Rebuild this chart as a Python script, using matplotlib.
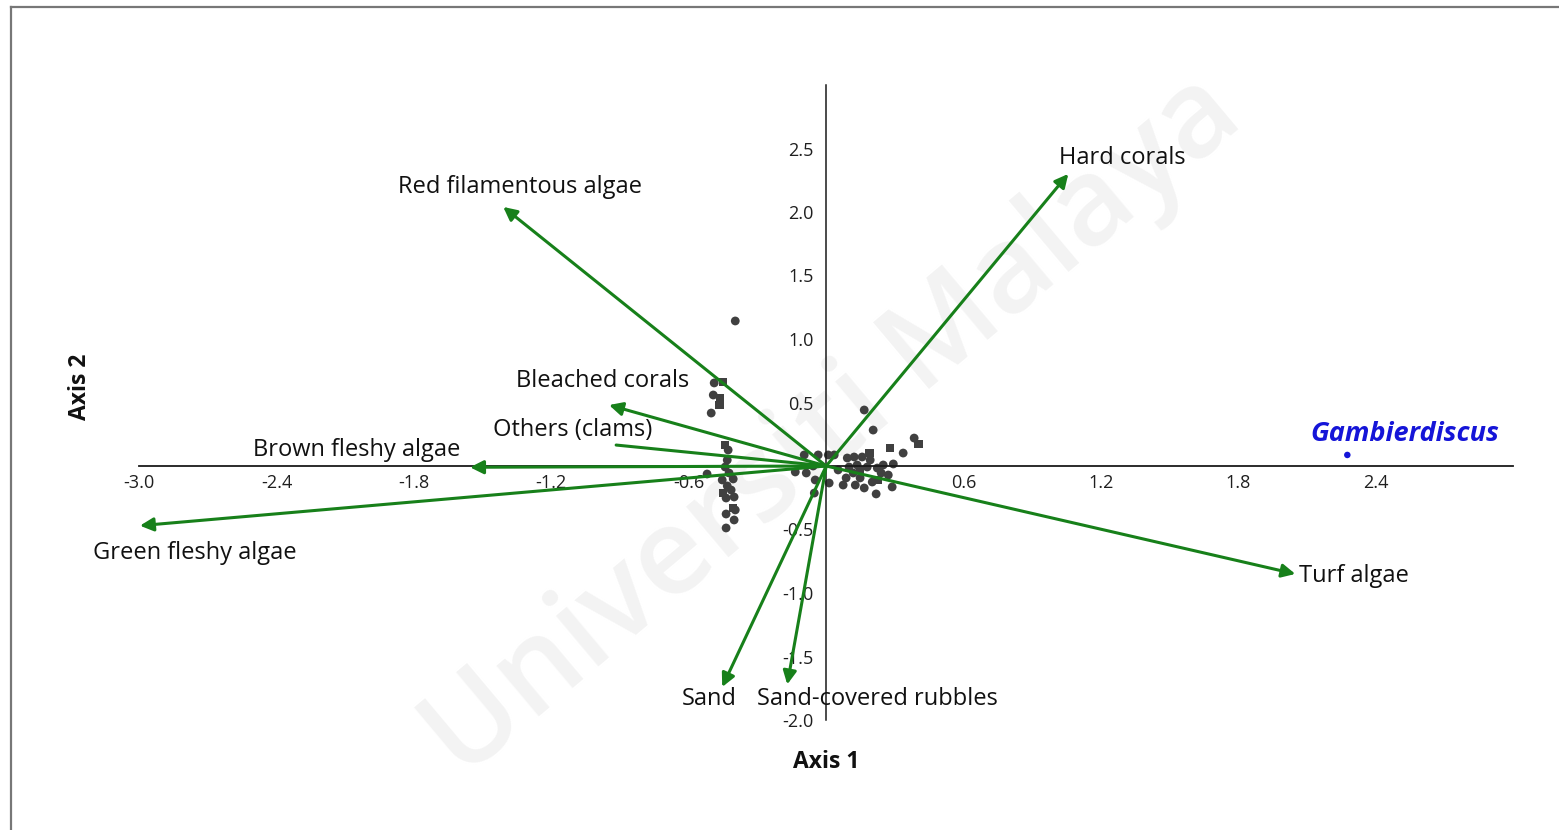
import matplotlib
matplotlib.use('Agg')
import matplotlib.pyplot as plt
from matplotlib.lines import Line2D

# ---------------- data ----------------
vec_names = ['Hard corals', 'Red filamentous algae', 'Bleached corals', 'Others (clams)',
             'Brown fleshy algae', 'Green fleshy algae', 'Turf algae', 'Sand',
             'Sand-covered rubbles']
vec_x = [1.057, -1.41, -0.948, -0.917, -1.555, -2.996, 2.048, -0.454, -0.17]
vec_y = [2.30, 2.04, 0.48, 0.165, -0.01, -0.47, -0.85, -1.74, -1.72]
vec_head = [True, True, True, False, True, True, True, True, True]

# label centres (data coords)
lab_x = [1.293, -1.336, -0.978, -1.105, -2.048, -2.755, 2.306, -0.511, 0.223]
lab_y = [2.425, 2.197, 0.669, 0.283, 0.126, -0.685, -0.866, -1.835, -1.835]

circ_x = [-0.397, -0.489, -0.493, -0.502, -0.428, -0.432, -0.441, -0.424, -0.454, -0.406,
          -0.432, -0.415, -0.437, -0.402, -0.397, -0.437, -0.402, -0.437, -0.520,
          0.166, 0.205, 0.384, 0.336, 0.293, -0.096, -0.035, 0.009, 0.035, 0.092, 0.122,
          0.157, -0.135, -0.087, -0.048, -0.052, 0.013, 0.074, 0.166, 0.218, 0.288,
          0.201, 0.240, 0.249, 0.118, 0.148, 0.223, 0.179, 0.135, 0.192, 0.100, 0.271,
          0.052, -0.057, 0.127, 0.087]
circ_y = [1.142, 0.654, 0.559, 0.417, 0.126, 0.047, -0.008, -0.055, -0.110, -0.102,
          -0.157, -0.189, -0.252, -0.244, -0.346, -0.378, -0.425, -0.488, -0.063,
          0.441, 0.283, 0.220, 0.102, 0.016, 0.087, 0.087, 0.087, 0.087, 0.063, 0.071,
          0.071, -0.047, -0.055, -0.110, -0.213, -0.134, -0.150, -0.173, -0.220, -0.165,
          -0.126, -0.055, 0.008, -0.055, -0.094, -0.016, -0.008, 0.008, 0.047, -0.008, -0.071,
          -0.031, 0.000, -0.150, -0.094]

sq_x = [-0.450, -0.463, -0.467, -0.441, -0.450, -0.406, 0.279, 0.188, 0.402, 0.148, 0.227]
sq_y = [0.661, 0.535, 0.480, 0.165, -0.213, -0.331, 0.142, 0.102, 0.173, -0.031, -0.110]

species_name = 'Gambierdiscus'
species_x = [2.275]
species_y = [0.087]
species_lab = (2.524, 0.252)

xticks = [-3.0, -2.4, -1.8, -1.2, -0.6, 0.6, 1.2, 1.8, 2.4]
yticks = [-2.0, -1.5, -1.0, -0.5, 0.5, 1.0, 1.5, 2.0, 2.5]

# ---------------- figure ----------------
W, H = 1559, 830
fig = plt.figure(figsize=(W / 100, H / 100), dpi=100)
plt.rcParams['font.family'] = ['Open Sans', 'DejaVu Sans']

# watermark (behind everything)
fig.text(0.535, 0.485, 'Universiti Malaya', rotation=40, fontsize=88, color='#f3f3f3',
         ha='center', va='center', fontweight='semibold', family='Open Sans', zorder=-5)

# frame (top and left)
fig.add_artist(Line2D([11 / W, 1.0], [1 - 7 / H, 1 - 7 / H], color='#777777', lw=1.6))
fig.add_artist(Line2D([11 / W, 11 / W], [0, 1 - 7 / H], color='#777777', lw=1.6))

ax = fig.add_axes([139 / W, 1 - 720 / H, 1374.4 / W, 635 / H])
ax.patch.set_alpha(0)
ax.set_xlim(-3.0, 3.0)
ax.set_ylim(-2.0, 3.0)
for s in ['top', 'right']:
    ax.spines[s].set_visible(False)
ax.spines['left'].set_position('zero')
ax.spines['bottom'].set_position('zero')
ax.spines['left'].set_color('#1a1a1a')
ax.spines['bottom'].set_color('#1a1a1a')
ax.spines['left'].set_linewidth(1.1)
ax.spines['bottom'].set_linewidth(1.3)
ax.set_xticks(xticks)
ax.set_yticks(yticks)
ax.set_xticklabels([f'{v:.1f}' for v in xticks])
ax.set_yticklabels([f'{v:.1f}' for v in yticks])
ax.tick_params(axis='x', length=0, pad=6, labelsize=13, labelcolor='#1f1f1f')
ax.tick_params(axis='y', length=0, pad=9, labelsize=13, labelcolor='#1f1f1f')

green = '#17801a'
for i, n in enumerate(vec_names):
    style = '-|>' if vec_head[i] else '-'
    ax.annotate('', xy=(vec_x[i], vec_y[i]), xytext=(0, 0),
                arrowprops=dict(arrowstyle=style, color=green, lw=2.2,
                                mutation_scale=20, shrinkA=0, shrinkB=0),
                annotation_clip=False, zorder=3)
    ax.text(lab_x[i], lab_y[i], n, ha='center', va='center', fontsize=17,
            color='#111111', zorder=4)

ax.scatter(circ_x, circ_y, s=40, marker='o', color='#404040', edgecolors='none', zorder=2)
ax.scatter(sq_x, sq_y, s=38, marker='s', color='#404040', edgecolors='none', zorder=2)

ax.scatter(species_x, species_y, s=22, color='#1515d8', edgecolors='none', zorder=4, clip_on=False)
ax.text(species_lab[0], species_lab[1], species_name, ha='center', va='center',
        fontsize=19.5, fontweight='bold', fontstyle='italic', color='#1515d8', zorder=4)

fig.text(826 / W, 1 - 762 / H, 'Axis 1', ha='center', va='center', fontsize=16.5,
         fontweight='bold', color='#111111')
fig.text(80 / W, 1 - 387 / H, 'Axis 2', ha='center', va='center', fontsize=16.5,
         fontweight='bold', rotation=90, color='#111111')

fig.savefig('out.png', dpi=100)
